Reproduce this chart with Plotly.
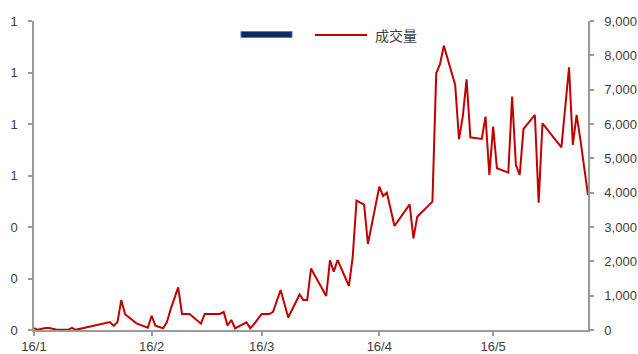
import plotly.graph_objects as go

# Daily trading volume (成交量), Jan–May 2016
dates = [
    "2016-01-01", "2016-01-02", "2016-01-04", "2016-01-05", "2016-01-07",
    "2016-01-10", "2016-01-11", "2016-01-12", "2016-01-21", "2016-01-22",
    "2016-01-23", "2016-01-24", "2016-01-25", "2016-01-28", "2016-01-31",
    "2016-02-01", "2016-02-02", "2016-02-04", "2016-02-05", "2016-02-06",
    "2016-02-08", "2016-02-09", "2016-02-11", "2016-02-14", "2016-02-15",
    "2016-02-19", "2016-02-20", "2016-02-21", "2016-02-22", "2016-02-23",
    "2016-02-26", "2016-02-27", "2016-02-28", "2016-03-01", "2016-03-03",
    "2016-03-04", "2016-03-06", "2016-03-08", "2016-03-11", "2016-03-12",
    "2016-03-13", "2016-03-14", "2016-03-18", "2016-03-19", "2016-03-20",
    "2016-03-21", "2016-03-24", "2016-03-25", "2016-03-26", "2016-03-28",
    "2016-03-29", "2016-04-01", "2016-04-02", "2016-04-03", "2016-04-05",
    "2016-04-09", "2016-04-10", "2016-04-11", "2016-04-15", "2016-04-16",
    "2016-04-17", "2016-04-18", "2016-04-21", "2016-04-22", "2016-04-23",
    "2016-04-24", "2016-04-25", "2016-04-28", "2016-04-29", "2016-04-30",
    "2016-05-01", "2016-05-02", "2016-05-05", "2016-05-06", "2016-05-07",
    "2016-05-08", "2016-05-09", "2016-05-12", "2016-05-13", "2016-05-14",
    "2016-05-19", "2016-05-21", "2016-05-22", "2016-05-23", "2016-05-24",
    "2016-05-26",
]
volume = [
    50, 10, 60, 60, 5,
    5, 60, 5, 233, 120,
    233, 870, 460, 195, 65,
    415, 125, 50, 220, 600,
    1240, 466, 466, 185, 466,
    466, 524, 130, 290, 50,
    225, 50, 170, 466, 466,
    530, 1165, 364, 1034, 874,
    874, 1790, 990, 2030, 1700,
    2040, 1282, 2135, 3767, 3650,
    2505, 4175, 3903, 4000, 3030,
    3660, 2670, 3300, 3738, 7478,
    7740, 8282, 7137, 5555, 6215,
    7303, 5613, 5564, 6215, 4515,
    5924, 4710, 4583, 6796, 4807,
    4515, 5855, 6263, 3709, 6020,
    5322, 7652, 5389, 6263, 5535,
    3932,
]

# Left-axis series has no values in this period
left_dates = []
left_values = []

volume_name = "成交量"
red = "#c00000"
navy = "#0b2a5e"
axis_grey = "#9a9a9a"
tick_font = dict(family="Liberation Sans, Arial, sans-serif", size=13, color="#404040")

fig = go.Figure()
fig.add_trace(go.Bar(x=left_dates, y=left_values, yaxis="y",
                     marker_color=navy, showlegend=False))
fig.add_trace(go.Scatter(x=dates, y=volume, yaxis="y2", mode="lines",
                         name=volume_name,
                         line=dict(color=red, width=2), showlegend=False))

axis_common = dict(
    showgrid=False, zeroline=False, automargin=False,
    showline=True, linecolor=axis_grey, linewidth=1.5,
    ticks="outside", ticklen=4, tickcolor=axis_grey, tickwidth=1.5,
    tickfont=tick_font,
)

fig.update_layout(
    width=638, height=354,
    margin=dict(l=34, r=50, t=21, b=24),
    paper_bgcolor="white", plot_bgcolor="white",
    showlegend=False,
    xaxis=dict(
        type="date",
        range=[dates[0], dates[-1]],
        tick0="2016-01-01", dtick="M1", tickformat="%y/%-m",
        **axis_common,
    ),
    yaxis=dict(
        range=[0, 1.2], dtick=0.2, tickformat=".0f",
        ticklabelstandoff=8,
        **axis_common,
    ),
    yaxis2=dict(
        range=[0, 9000], dtick=1000, tickformat=",d",
        overlaying="y", side="right",
        ticklabelstandoff=8,
        **axis_common,
    ),
)

# Legend drawn above the plot: empty navy swatch, then the volume line
fig.add_shape(type="rect", xref="paper", yref="paper",
              x0=0.3736, x1=0.4657, y0=0.9466, y1=0.966,
              fillcolor=navy, line=dict(color="#5b7bb0", width=1))
fig.add_shape(type="line", xref="paper", yref="paper",
              x0=0.5072, x1=0.6011, y0=0.9547, y1=0.9547,
              line=dict(color=red, width=2))
fig.add_annotation(xref="paper", yref="paper", x=0.6119, y=0.9547,
                   xanchor="left", yanchor="middle", showarrow=False,
                   text=volume_name,
                   font=dict(family="Noto Sans CJK SC", size=14, color="#404040"))

fig.write_html("out.html")
